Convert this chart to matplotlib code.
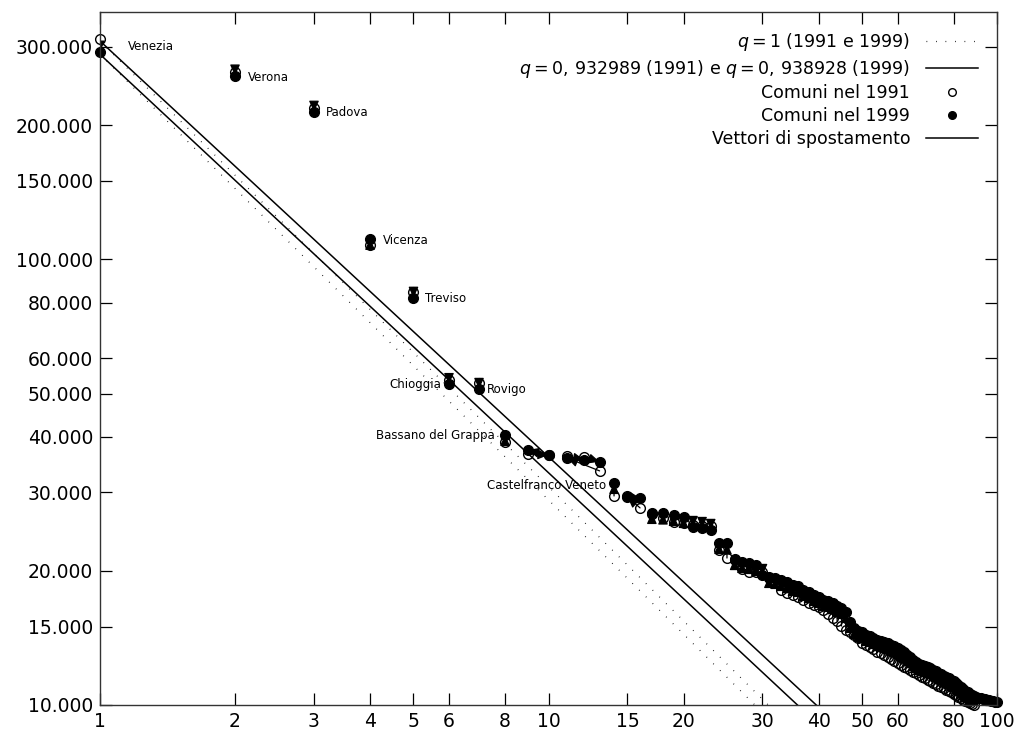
import matplotlib
matplotlib.use("Agg")
import matplotlib.pyplot as plt
from matplotlib.patches import FancyArrowPatch
from matplotlib.lines import Line2D
from matplotlib.ticker import FixedLocator, FuncFormatter, NullLocator
import numpy as np

plt.rcParams['font.family'] = ['DejaVu Sans']
plt.rcParams['mathtext.fontset'] = 'dejavusans'

# ---- data ----
pop91 = [312000, 263000, 218800, 107800, 84500, 53600, 52700, 38930, 36590, 36300,
         36150, 36020, 33520, 29450, 29380, 27690, 26800, 26290, 25750, 25600,
         25300, 25250, 25200, 22280, 21370, 21150, 20200, 19900, 19880, 19860,
         19280, 18880, 18120, 17840, 17660, 17480, 17210, 16940, 16770, 16600,
         16340, 16010, 15680, 15440, 15040, 14740, 14580, 14360, 14140, 13780,
         13640, 13500, 13360, 13150, 13090, 12950, 12820, 12680, 12550, 12420,
         12300, 12170, 12110, 11980, 11860, 11800, 11680, 11560, 11500, 11380,
         11320, 11200, 11150, 11030, 10970, 10920, 10810, 10750, 10700, 10590,
         10530, 10420, 10370, 10260, 10210, 10160, 10100, 10050, 10020]
pop99 = [292500, 258500, 214400, 111200, 82000, 52500, 51200, 40370, 37360, 36400,
         35840, 35480, 35130, 31500, 29300, 29150, 26980, 26900, 26700, 26420,
         25090, 24960, 24710, 23100, 23050, 21260, 20940, 20830, 20620, 19580,
         19380, 19280, 19080, 18880, 18600, 18500, 18120, 17930, 17660, 17480,
         17210, 17120, 16940, 16680, 16510, 16170, 15360, 14890, 14660, 14580,
         14360, 14290, 14140, 13990, 13920, 13850, 13780, 13640, 13570, 13430,
         13290, 13150, 12950, 12820, 12620, 12490, 12360, 12300, 12230, 12170,
         12110, 11980, 11920, 11800, 11740, 11620, 11560, 11500, 11380, 11320,
         11200, 11090, 10970, 10860, 10750, 10700, 10590, 10530, 10480, 10420,
         10370, 10350, 10310, 10290, 10260, 10240, 10210, 10190, 10160, 10140]
# rank in 1991 -> rank in 1999 where different
rank_moves = {9: 10, 10: 9, 11: 12, 12: 13, 13: 11, 15: 16, 16: 15}

# fitted power laws P(r) = C / r^q
C91, q91 = 309000, 0.932989
C99, q99 = 288500, 0.938928

# labelled communes: (name, rank in 1999, side)
label_names = ["Venezia", "Verona", "Padova", "Vicenza", "Treviso",
               "Chioggia", "Rovigo", "Bassano del Grappa", "Castelfranco Veneto"]
label_ranks99 = [1, 2, 3, 4, 5, 6, 7, 8, 14]
label_offsets = [(20, 3.6), (9.4, -1.4), (8.6, -0.7), (9.4, -1.4), (8.6, -0.7),
                 (-5.8, 0), (5.8, -0.7), (-7.2, -0.7), (-5.8, -2.2)]

xticks = [1, 2, 3, 4, 5, 6, 8, 10, 15, 20, 30, 40, 50, 60, 80, 100]
yticks = [10000, 15000, 20000, 30000, 40000, 50000, 60000, 80000,
          100000, 150000, 200000, 300000]

# ---- figure ----
fig = plt.figure(figsize=(10.17, 7.37), dpi=100)
ax = fig.add_axes([100/1017, 1-705/737, 897/1017, 693/737])
ax.set_xscale('log')
ax.set_yscale('log')
ax.set_xlim(1, 100)
ax.set_ylim(10000, 359000)

rr = np.logspace(0, 2, 400)
ax.plot(rr, C91 / rr, color='k', lw=0.9, ls=(0, (0.6, 7)))
ax.plot(rr, C99 / rr, color='k', lw=0.9, ls=(0, (0.6, 7)))
ax.plot(rr, C91 / rr**q91, color='k', lw=1.1)
ax.plot(rr, C99 / rr**q99, color='k', lw=1.1)

r91 = np.arange(1, len(pop91) + 1)
r99 = np.arange(1, len(pop99) + 1)
ax.plot(r91, pop91, ls='none', marker='o', ms=7, mfc='none', mec='k', mew=1.0, clip_on=False)
ax.plot(r99, pop99, ls='none', marker='o', ms=7, mfc='k', mec='k', mew=1.0, clip_on=False)

for i, p in enumerate(pop91):
    ra = i + 1
    rb = rank_moves.get(ra, ra)
    pb = pop99[rb - 1]
    arr = FancyArrowPatch(posA=(ra, p), posB=(rb, pb), arrowstyle='-|>,head_length=0.65,head_width=0.3',
                          mutation_scale=10, lw=0.9, color='k', shrinkA=0, shrinkB=0)
    ax.add_patch(arr)

for name, rk, off in zip(label_names, label_ranks99, label_offsets):
    ha = 'left' if off[0] > 0 else 'right'
    ax.annotate(name, xy=(rk, pop99[rk - 1]), xytext=off, textcoords='offset points',
                ha=ha, va='center', fontsize=8.5)

ax.xaxis.set_major_locator(FixedLocator(xticks))
ax.xaxis.set_minor_locator(NullLocator())
ax.yaxis.set_major_locator(FixedLocator(yticks))
ax.yaxis.set_minor_locator(NullLocator())
ax.xaxis.set_major_formatter(FuncFormatter(lambda v, p: f"{int(round(v))}"))
ax.yaxis.set_major_formatter(FuncFormatter(lambda v, p: f"{int(round(v)):,}".replace(",", ".")))
ax.tick_params(which='both', direction='in', length=8.6, width=0.9, top=True, right=True,
               labelsize=13.5, pad=5, colors='k')
for s in ax.spines.values():
    s.set_linewidth(1.0)
    s.set_color('#333333')

handles = [Line2D([], [], color='k', lw=0.9, ls=(0, (0.6, 7))),
           Line2D([], [], color='k', lw=1.1),
           Line2D([], [], ls='none', marker='o', ms=5.5, mfc='none', mec='k'),
           Line2D([], [], ls='none', marker='o', ms=5.5, mfc='k', mec='k'),
           Line2D([], [], color='k', lw=1.1)]
labels = [r"$q = 1$ (1991 e 1999)",
          r"$q = 0,\,932989$ (1991) e $q = 0,\,938928$ (1999)",
          "Comuni nel 1991", "Comuni nel 1999", "Vettori di spostamento"]
leg = ax.legend(handles, labels, loc='upper right', frameon=False, markerfirst=False,
                fontsize=12.5, handlelength=3.0, labelspacing=0.27, borderaxespad=0.7,
                handletextpad=0.9)

fig.savefig("out.png", dpi=100)
